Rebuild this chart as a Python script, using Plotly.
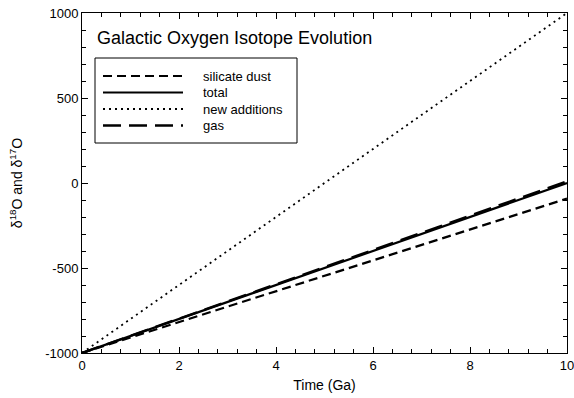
import plotly.graph_objects as go

time_ga = [0, 2, 4, 6, 8, 10]
silicate_dust = [-1000, -818, -636, -454, -272, -92]
total = [-1000, -800, -600, -400, -200, 0]
new_additions = [-1000, -600, -200, 200, 600, 1000]
gas = [-1000, -798, -596, -394, -192, 10]

series_names = ["silicate dust", "total", "new additions", "gas"]
series_values = [silicate_dust, total, new_additions, gas]
series_dash = ["9px,5px", "solid", "2px,4px", "18px,8px"]
series_width = [2.2, 2.2, 1.8, 2.4]

x_ticks = [0, 2, 4, 6, 8, 10]
y_ticks = [-1000, -500, 0, 500, 1000]

fig = go.Figure()
for name, vals, dash, w in zip(series_names, series_values, series_dash, series_width):
    fig.add_trace(go.Scatter(x=time_ga, y=vals, mode="lines", name=name,
                             line=dict(color="black", width=w, dash=dash),
                             showlegend=False, hoverinfo="skip"))

# manual legend box (paper coordinates)
L, R, T, B = 82, 567, 13, 353
def px(x):
    return (x - L) / (R - L)
def py(y):
    return (B - y) / (B - T)

shapes = [dict(type="rect", xref="paper", yref="paper", x0=px(95), x1=px(297),
               y0=py(143), y1=py(58), line=dict(color="black", width=1), fillcolor="white", layer="above")]
annotations = []
rows_y = [76, 92.5, 109, 125.5]
for name, dash, w, yy in zip(series_names, series_dash, series_width, rows_y):
    shapes.append(dict(type="line", xref="paper", yref="paper", x0=px(103), x1=px(183),
                       y0=py(yy), y1=py(yy), line=dict(color="black", width=w, dash=dash), layer="above"))
    annotations.append(dict(xref="paper", yref="paper", x=px(201), y=py(yy), text=name,
                            showarrow=False, xanchor="left", yanchor="middle",
                            font=dict(size=13, color="black")))
annotations.append(dict(xref="paper", yref="paper", x=px(95), y=py(38),
                        text="Galactic Oxygen Isotope Evolution", showarrow=False,
                        xanchor="left", yanchor="middle", font=dict(size=18, color="black")))

axis_common = dict(showline=True, linecolor="black", linewidth=1, mirror="ticks",
                   ticks="inside", ticklen=6, tickcolor="black", showgrid=False, zeroline=False,
                   automargin=False, ticklabeloverflow="allow",
                   tickfont=dict(size=13, color="black"))
fig.update_layout(
    width=574, height=398,
    margin=dict(l=L, r=574 - R, t=T, b=398 - B),
    paper_bgcolor="white", plot_bgcolor="white",
    font=dict(family="Liberation Sans, Arial, sans-serif", color="black"),
    shapes=shapes, annotations=annotations,
    xaxis=dict(range=[0, 10], tickvals=x_ticks, ticktext=[str(v) for v in x_ticks],
               minor=dict(dtick=0.4, ticks="inside", ticklen=4, tickcolor="black"),
               title=dict(text="Time (Ga)", font=dict(size=14), standoff=8), **axis_common),
    yaxis=dict(range=[-1000, 1000], tickvals=y_ticks, ticktext=[str(v) for v in y_ticks],
               minor=dict(dtick=100, ticks="inside", ticklen=4, tickcolor="black"),
               title=dict(text="δ<sup>18</sup>O and δ<sup>17</sup>O", font=dict(size=14), standoff=19),
               **axis_common),
)
fig.write_html("out.html", config={"displayModeBar": False},
               post_script="document.body.style.margin='0';document.body.style.overflow='hidden';")
